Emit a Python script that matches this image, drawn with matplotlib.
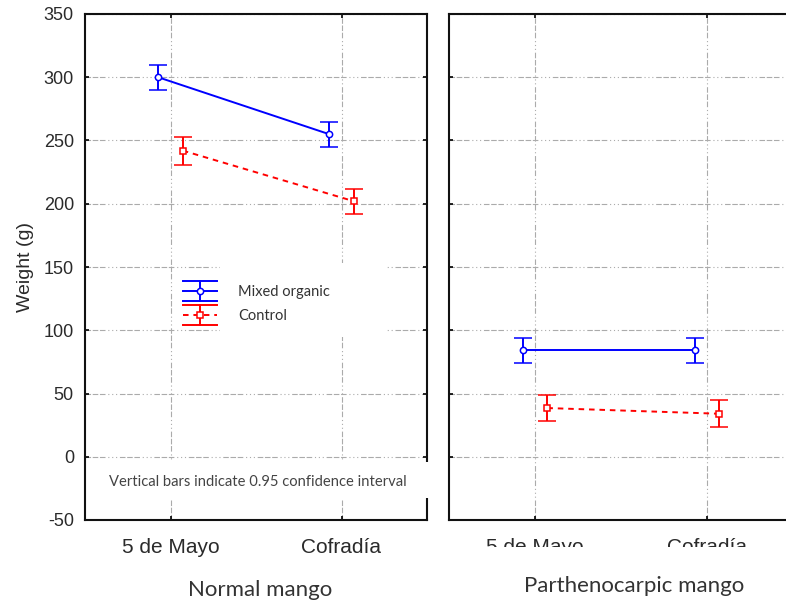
import numpy as np
import matplotlib
matplotlib.use("Agg")
import matplotlib.pyplot as plt
from matplotlib.patches import Rectangle
from matplotlib.lines import Line2D
from matplotlib.legend_handler import HandlerBase

plt.rcParams['lines.scale_dashes'] = False
plt.rcParams['axes.unicode_minus'] = False

# ---- data -------------------------------------------------------------
cultivars = ["5 de Mayo", "Cofradía"]
panels = ["Normal mango", "Parthenocarpic mango"]
series = ["Mixed organic", "Control"]

normal_mixed = [300, 255]
normal_mixed_ci = [10, 10]
normal_control = [242, 202]
normal_control_ci = [11, 10]

parth_mixed = [84, 84]
parth_mixed_ci = [10, 10]
parth_control = [38.5, 34]
parth_control_ci = [10, 10.5]

y_ticks = [-50, 0, 50, 100, 150, 200, 250, 300, 350]
note = "Vertical bars indicate 0.95 confidence interval"

# ---- style ------------------------------------------------------------
BLUE = "#0000ff"
RED = "#ff0000"
GRID = "#ababab"
grid_dash = (0, (4, 1.2, 4, 1.2, 4, 2, 0.8, 2, 0.8, 2, 0.8, 2))
red_dash = (0, (4, 3.5))
LW = 1.4
tick_font = "Liberation Sans"
label_font = "Lato"
offset = 0.072


class ErrorbarGlyph(HandlerBase):
    """Legend key: connecting line, marker and a CI bar with wide caps."""

    def __init__(self, color, ls, marker, half=7.2):
        super().__init__()
        self.color, self.ls, self.marker, self.half = color, ls, marker, half

    def create_artists(self, legend, orig_handle, xdescent, ydescent,
                       width, height, fontsize, trans):
        x0, x1 = -xdescent, -xdescent + width
        cx, cy = (x0 + x1) / 2, height / 2 - ydescent
        h = self.half
        arts = [
            Line2D([x0, x1], [cy, cy], color=self.color, lw=LW, ls=self.ls),
            Line2D([cx, cx], [cy - h, cy + h], color=self.color, lw=LW),
            Line2D([x0, x1], [cy + h, cy + h], color=self.color, lw=LW),
            Line2D([x0, x1], [cy - h, cy - h], color=self.color, lw=LW),
            Line2D([cx], [cy], marker=self.marker, ms=4.5, mfc="white",
                   mec=self.color, mew=1.1, ls="none"),
        ]
        for a in arts:
            a.set_transform(trans)
        return arts


fig = plt.figure(figsize=(7.86, 6.02), dpi=100)
W, H = 786, 602


def px_axes(x0, y0, x1, y1):
    return fig.add_axes([x0 / W, 1 - y1 / H, (x1 - x0) / W, (y1 - y0) / H])


ax1 = px_axes(85, 14, 427, 520)
ax2 = px_axes(449, 14, 793, 520)

x = np.arange(len(cultivars))


def draw(ax, mixed, mixed_ci, control, control_ci):
    h1 = ax.errorbar(x - offset, mixed, yerr=mixed_ci, color=BLUE, lw=LW,
                     ls="-", marker="o", ms=4.5, mfc="white", mec=BLUE,
                     mew=1.1, capsize=6.5, capthick=LW, elinewidth=LW,
                     zorder=4, label=series[0])
    h2 = ax.errorbar(x + offset, control, yerr=control_ci, color=RED, lw=LW,
                     ls=red_dash, marker="s", ms=4.5, mfc="white",
                     mec=RED, mew=1.1, capsize=6.5, capthick=LW,
                     elinewidth=LW, zorder=4, label=series[1])
    ax.set_xlim(-0.5, 1.5)
    ax.set_ylim(-50, 350)
    ax.set_xticks(x)
    ax.set_yticks(y_ticks)
    ax.grid(True, color=GRID, lw=0.8, ls=grid_dash, zorder=0)
    ax.set_axisbelow(True)
    ax.tick_params(direction="in", length=3, width=1.2, top=True,
                   right=True, colors="black", labelcolor="#2a2a2a")
    for s in ax.spines.values():
        s.set_linewidth(1.5)
        s.set_color("#111111")
    return h1, h2


h1, h2 = draw(ax1, normal_mixed, normal_mixed_ci, normal_control, normal_control_ci)
draw(ax2, parth_mixed, parth_mixed_ci, parth_control, parth_control_ci)

ax1.tick_params(axis="y", pad=8)
for lab in ax1.get_yticklabels():
    lab.set_fontfamily(tick_font)
    lab.set_fontsize(13)
for ax in (ax1, ax2):
    ax.set_xticklabels(cultivars, fontfamily=tick_font, fontsize=15)
    ax.tick_params(axis="x", pad=13)
ax2.tick_params(axis="y", labelleft=False)
ax2.spines["right"].set_visible(False)

ax1.set_ylabel("Weight (g)", fontfamily=tick_font, fontsize=14,
               color="#2a2a2a", labelpad=7)

# legend area blanks out the grid behind it
ax1.add_patch(Rectangle((0.395, 0.362), 0.488, 0.146, transform=ax1.transAxes,
                        facecolor="white", edgecolor="none", zorder=1))
leg = ax1.legend(handles=[h1, h2], labels=series, loc="upper left",
                 bbox_to_anchor=(0.2865, 0.464), frameon=False,
                 prop={"family": label_font, "size": 10.5},
                 handler_map={h1: ErrorbarGlyph(BLUE, "-", "o"),
                              h2: ErrorbarGlyph(RED, red_dash, "s")},
                 handlelength=2.35, handletextpad=1.45, labelspacing=0.68,
                 borderpad=0, borderaxespad=0)
for t in leg.get_texts():
    t.set_color("#333333")

# note box also interrupts the right spine
ax1.add_patch(Rectangle((0.03, 0.0435), 0.99, 0.0715, transform=ax1.transAxes,
                        facecolor="white", edgecolor="none", zorder=3,
                        clip_on=False))
ax1.text(0.505, 0.0755, note, transform=ax1.transAxes, ha="center",
         va="center", fontfamily=label_font, fontsize=10.6, color="#444444",
         zorder=5)

# panel titles under the axes
fig.text(260 / W, 1 - 590 / H, panels[0], ha="center", va="center",
         fontfamily=label_font, fontsize=16, color="#333333")
fig.text(634 / W, 1 - 586 / H, panels[1], ha="center", va="center",
         fontfamily=label_font, fontsize=16, color="#333333")

# lower edge of the right panel's category labels is cut off
fig.patches.append(Rectangle((440 / W, 1 - 557 / H), 346 / W, 10 / H,
                             transform=fig.transFigure, facecolor="white",
                             edgecolor="none", zorder=10))

fig.savefig("out.png", dpi=100)
